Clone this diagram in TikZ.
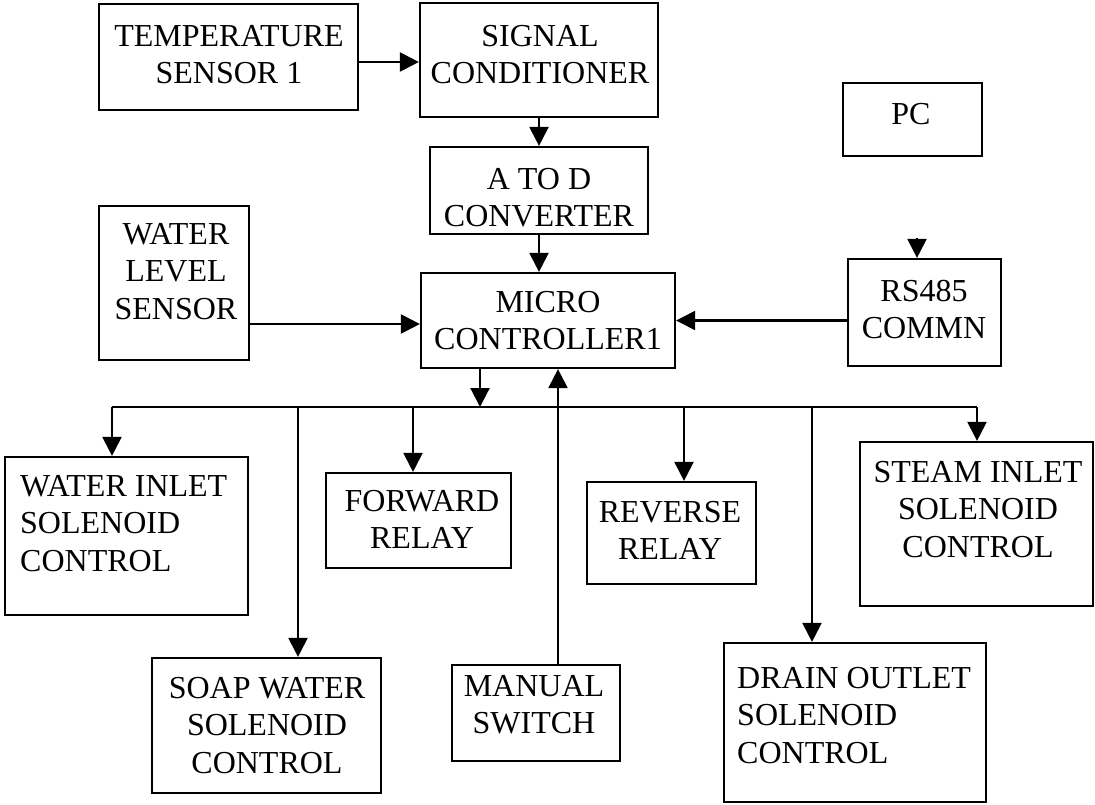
\documentclass[tikz,border=0pt]{standalone}
\usepackage{fontspec}
\setmainfont{Liberation Serif}
\usetikzlibrary{arrows.meta}
\begin{document}
\begin{tikzpicture}[x=1pt,y=-1pt,
  box/.style={draw, line width=2.2pt, inner sep=0pt},
  lbl/.style={inner sep=0pt, anchor=north, align=center, yshift=-3pt, font=\fontsize{32}{37.5}\selectfont},
  lbll/.style={lbl, anchor=north west, align=left},
  arr/.style={line width=2.2pt, -{Triangle[length=19pt,width=19pt]}},
  ln/.style={line width=2.2pt}]
\useasboundingbox[fill=white] (0,0) rectangle (1095,804);
% boxes
\node[box, minimum width=259, minimum height=106] (ts) at (228.5,57) {};
\node[box, minimum width=238, minimum height=114] (sc) at (539,60) {};
\node[box, minimum width=139, minimum height=73] (pc) at (912.5,119.5) {};
\node[box, minimum width=218, minimum height=87] (ad) at (539,190.5) {};
\node[box, minimum width=150, minimum height=154] (wl) at (174,283) {};
\node[box, minimum width=254, minimum height=95] (mc) at (548,320.5) {};
\node[box, minimum width=153, minimum height=107] (rs) at (924.5,312.5) {};
\node[box, minimum width=243, minimum height=158] (wi) at (126.5,536) {};
\node[box, minimum width=185, minimum height=95] (fr) at (418.5,520.5) {};
\node[box, minimum width=169, minimum height=102] (rr) at (671.5,533) {};
\node[box, minimum width=233, minimum height=164] (st) at (976.5,524) {};
\node[box, minimum width=229, minimum height=135] (sw) at (266.5,725.5) {};
\node[box, minimum width=168, minimum height=96] (ms) at (536,713) {};
\node[box, minimum width=262, minimum height=159] (dr) at (855,722.5) {};
% labels
\node[lbl] (tst) at (229,22) {TEMPERATURE\\SENSOR 1};
\node[lbl] (sct) at (540,22) {SIGNAL\\CONDITIONER};
\node[lbl] (pct) at (911,100) {PC};
\node[lbl] (adt) at (539,165) {A TO D\\CONVERTER};
\node[lbl] (wlt) at (176,220) {WATER\\LEVEL\\SENSOR};
\node[lbl] (mct) at (548,288) {MICRO\\CONTROLLER1};
\node[lbl] (rst) at (924,277) {RS485\\COMMN};
\node[lbll] (wit) at (20,472) {WATER INLET\\SOLENOID\\CONTROL};
\node[lbl] (frt) at (422,487) {FORWARD\\RELAY};
\node[lbl] (rrt) at (670,498) {REVERSE\\RELAY};
\node[lbl] (stt) at (978,458) {STEAM INLET\\SOLENOID\\CONTROL};
\node[lbl] (swt) at (267,674) {SOAP WATER\\SOLENOID\\CONTROL};
\node[lbl] (mst) at (534,672) {MANUAL\\SWITCH};
\node[lbll] (drt) at (737,664) {DRAIN OUTLET\\SOLENOID\\CONTROL};
% helper coordinates
\coordinate (ya) at (0,62);
\coordinate (yw) at (0,324);
\coordinate (pcin) at (917,238);
\coordinate (bm) at (480,407);
\coordinate (mu) at (558,407);
\coordinate (b1) at (112,407);
\coordinate (b2) at (298,407);
\coordinate (b3) at (413,407);
\coordinate (b4) at (684,407);
\coordinate (b5) at (812,407);
\coordinate (b6) at (977,407);
% connectors
\draw[arr] (ts.east |- ya) -- (sc.west |- ya);
\draw[arr] (sc.south) -- (ad.north);
\draw[arr] (ad.south) -- (ad.south |- mc.north);
\draw[arr] (wl.east |- yw) -- (mc.west |- yw);
\draw[arr] (rs.west |- mc.east) -- (mc.east);
\draw[arr] (pcin) -- (pcin |- rs.north);
\draw[arr] (bm |- mc.south) -- (bm);
\draw[arr] (mu |- ms.north) -- (mu |- mc.south);
\draw[ln] (b1) -- (b6);
\draw[arr] (b1) -- (b1 |- wi.north);
\draw[arr] (b2) -- (b2 |- sw.north);
\draw[arr] (b3) -- (b3 |- fr.north);
\draw[arr] (b4) -- (b4 |- rr.north);
\draw[arr] (b5) -- (b5 |- dr.north);
\draw[arr] (b6) -- (b6 |- st.north);
\end{tikzpicture}
\end{document}
